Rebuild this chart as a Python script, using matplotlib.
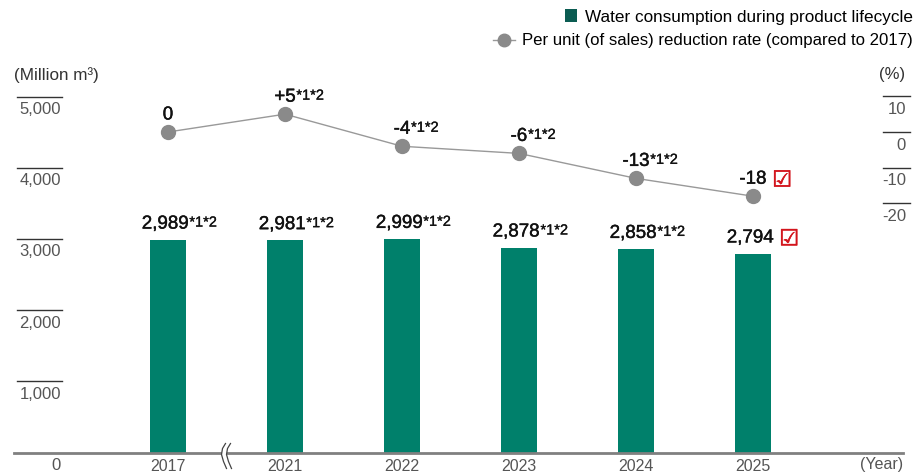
import matplotlib
matplotlib.use("Agg")
from matplotlib import pyplot as plt
from matplotlib import transforms as mtransforms
from matplotlib import patheffects as pe
from matplotlib.patches import Patch, Polygon
from matplotlib.lines import Line2D

plt.rcParams['font.family'] = ['Liberation Sans', 'DejaVu Sans']

# data
years = ['2017', '2021', '2022', '2023', '2024', '2025']
water = [2989, 2981, 2999, 2878, 2858, 2794]
water_labels = ['2,989', '2,981', '2,999', '2,878', '2,858', '2,794']
rate = [0, 5, -4, -6, -13, -18]
rate_labels = ['0', '+5', '-4', '-6', '-13', '-18']
notes = ['', '*1*2', '*1*2', '*1*2', '*1*2', 'check']
bar_notes = ['*1*2', '*1*2', '*1*2', '*1*2', '*1*2', 'check']
left_ticks = [0, 1000, 2000, 3000, 4000, 5000]
left_tick_labels = ['0', '1,000', '2,000', '3,000', '4,000', '5,000']
right_ticks = [10, 0, -10, -20]
right_tick_labels = ['10', '0', '-10', '-20']

bar_color = '#00806b'
legend_bar_color = '#0b5c52'
line_color = '#999999'
marker_color = '#8a8a8a'
tick_color = '#555555'
check_color = '#d3141c'

W, H = 916, 475
fig = plt.figure(figsize=(W / 100, H / 100), dpi=100)
x0, x1, yb, yt = 14, 903, 452.5, 60
ax = fig.add_axes([x0 / W, 1 - yb / H, (x1 - x0) / W, (yb - yt) / H])
ax2 = ax.twinx()

xs = list(range(len(years)))
ax.bar(xs, water, width=0.3, color=bar_color, zorder=2)
ax.set_xlim((x0 - 168) / 117, (x1 - 168) / 117)
ax.set_ylim(0, (yb - yt) / 0.0712)
ax2.set_ylim(-(yb - 132) / 3.567, (132 - yt) / 3.567)

ax2.plot(xs, rate, color=line_color, lw=1, marker='o', markersize=10,
         markerfacecolor=marker_color, markeredgecolor=marker_color, zorder=3)

for a in (ax, ax2):
    for s in ['top', 'left', 'right']:
        a.spines[s].set_visible(False)
    a.set_yticks([])
ax2.spines['bottom'].set_visible(False)
ax.spines['bottom'].set_color('#808080')
ax.spines['bottom'].set_linewidth(2)
ax.tick_params(axis='x', length=0, labelsize=11.5, labelcolor=tick_color, pad=5)
ax.set_xticks(xs)
ax.set_xticklabels(years)

# custom y ticks: short line above a right-aligned label
ytr = ax.get_yaxis_transform()
for v, lab in zip(left_ticks, left_tick_labels):
    if v != 0:
        ax.axhline(v, xmin=3 / 889, xmax=48 / 889, color='#333333', lw=1)
    ax.annotate(lab, xy=(47 / 889, v), xycoords=ytr, xytext=(0, -4),
                textcoords='offset points', ha='right', va='top',
                fontsize=12, color=tick_color)
ytr2 = ax2.get_yaxis_transform()
for v, lab in zip(right_ticks, right_tick_labels):
    ax2.axhline(v, xmin=(883 - x0) / 889, xmax=(910 - x0) / 889,
                color='#333333', lw=1, clip_on=False)
    ax2.annotate(lab, xy=((906 - x0) / 889, v), xycoords=ytr2, xytext=(0, -4),
                 textcoords='offset points', ha='right', va='top',
                 fontsize=12, color=tick_color, annotation_clip=False)

fig.text(14 / W, 1 - 75 / H, '(Million m\u00b3)', fontsize=12.3, color='#333333',
         ha='left', va='center')
fig.text(905 / W, 1 - 75 / H, '(%)', fontsize=12, color='#333333',
         ha='right', va='center')
fig.text(903 / W, 1 - 465 / H, '(Year)', fontsize=11.5, color=tick_color,
         ha='right', va='center')

# slightly heavier than regular, lighter than bold
medium = [pe.withStroke(linewidth=0.3, foreground='#111111')]
medium_small = [pe.withStroke(linewidth=0.2, foreground='#111111')]


def add_note(a, main, note):
    if note == 'check':
        a.annotate('\u2611', xy=(1, 0.42), xycoords=main, xytext=(4, 0),
                   textcoords='offset points', ha='left', va='center',
                   fontsize=16, color=check_color, family='DejaVu Sans',
                   path_effects=[pe.withStroke(linewidth=0.4,
                                               foreground=check_color)])
    elif note:
        a.annotate(note, xy=(1, 1), xycoords=main, xytext=(0.5, 0),
                   textcoords='offset points', ha='left', va='top',
                   fontsize=10.5, color='#111111', path_effects=medium_small)


for x, v, lab, note in zip(xs, water, water_labels, bar_notes):
    t = ax.annotate(lab, xy=(x, v), xytext=(-2, 8), textcoords='offset points',
                    ha='center', va='baseline', fontsize=13.5, color='#111111',
                    path_effects=medium)
    add_note(ax, t, note)

for x, v, lab, note in zip(xs, rate, rate_labels, notes):
    t = ax2.annotate(lab, xy=(x, v), xytext=(0, 9), textcoords='offset points',
                     ha='center', va='baseline', fontsize=13.5, color='#111111',
                     path_effects=medium)
    add_note(ax2, t, note)

# axis break mark between 2017 and 2021
brk = mtransforms.Affine2D().scale(1 / 100) + fig.dpi_scale_trans + \
    mtransforms.ScaledTranslation(0.5, 0, ax.transData)
left_curve = [(-1, 9), (-4, 4), (-5, -2), (-3, -9), (0, -16)]
right_curve = [(px + 5, py) for px, py in left_curve]
poly = Polygon(left_curve + right_curve[::-1], closed=True, facecolor='white',
               edgecolor='none', transform=brk, clip_on=False, zorder=5)
ax.add_patch(poly)
for c in (left_curve, right_curve):
    ax.add_line(Line2D([p[0] for p in c], [p[1] for p in c], color='#444444',
                       lw=0.9, transform=brk, clip_on=False, zorder=6))

# legends
h1 = Patch(facecolor=legend_bar_color, edgecolor='none')
h2 = Line2D([], [], color=line_color, lw=1, marker='o', markersize=9,
            markerfacecolor=marker_color, markeredgecolor=marker_color)
fig.legend([h1], ['Water consumption during product lifecycle'],
           loc='center right', bbox_to_anchor=(913 / W, 1 - 17 / H),
           frameon=False, fontsize=12.3, borderpad=0, borderaxespad=0,
           handlelength=0.75, handleheight=0.75, handletextpad=0.45)
fig.legend([h2], ['Per unit (of sales) reduction rate (compared to 2017)'],
           loc='center right', bbox_to_anchor=(913 / W, 1 - 41 / H),
           frameon=False, fontsize=12.1, borderpad=0, borderaxespad=0,
           handlelength=1.3, handletextpad=0.45)

fig.savefig('out.png', dpi=100)
